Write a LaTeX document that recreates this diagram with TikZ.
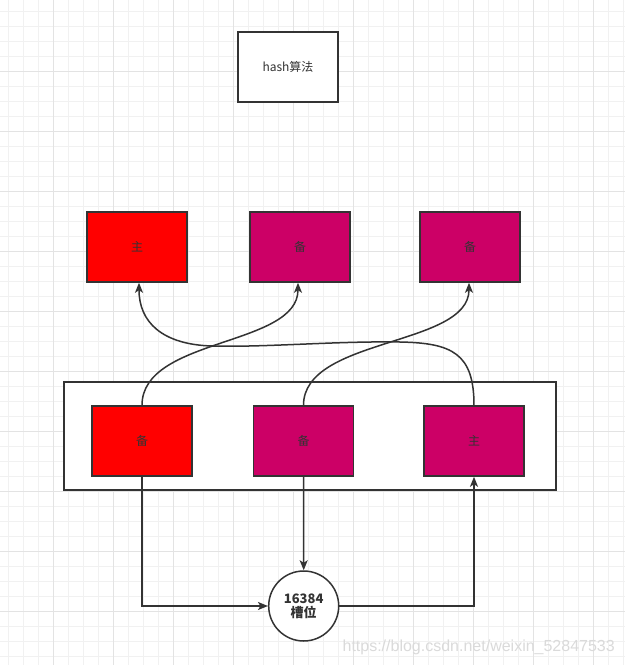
\documentclass[tikz,border=0pt]{standalone}
\usepackage{fontspec}
\setmainfont{Noto Sans CJK SC}
\setsansfont{Liberation Sans}
\usetikzlibrary{arrows.meta}
\definecolor{redfill}{HTML}{FF0000}
\definecolor{magfill}{HTML}{CC0066}
\definecolor{strokec}{HTML}{333333}
\definecolor{gridminor}{HTML}{F1F1F1}
\definecolor{gridmajor}{HTML}{E3E3E3}
\definecolor{wmark}{HTML}{DADADA}
\begin{document}
\begin{tikzpicture}[x=1pt,y=-1pt,
  box/.style={draw=strokec,line width=1.5pt,minimum width=100pt,minimum height=70pt,inner sep=0pt,
    font=\fontsize{12}{14}\selectfont,text=strokec},
  redbox/.style={box,fill=redfill},
  magbox/.style={box,fill=magfill},
  whitebox/.style={box,fill=white},
  container/.style={draw=strokec,line width=1.5pt,fill=white,minimum width=492pt,minimum height=108pt,inner sep=0pt},
  slot/.style={circle,draw=strokec,line width=1.5pt,fill=white,minimum size=70pt,inner sep=0pt,
    font=\bfseries\fontsize{13}{15}\selectfont,text=strokec,align=center},
  conn/.style={draw=strokec,line width=1.5pt,-{Stealth[length=10pt,width=8pt,inset=2.5pt]}},
  watermark/.style={font=\sffamily\fontsize{16}{16}\selectfont,text=wmark,anchor=east,inner sep=0pt}
]
\fill[white] (0,0) rectangle (625,665);
\useasboundingbox (0,0) rectangle (625,665);
% grid
\foreach \i in {0,...,41} \draw[gridminor,line width=1pt] (8.7+15*\i,0) -- (8.7+15*\i,665);
\foreach \j in {0,...,43} \draw[gridminor,line width=1pt] (0,11.7+15*\j) -- (625,11.7+15*\j);
\foreach \i in {0,...,9} \draw[gridmajor,line width=1pt] (53.7+60*\i,0) -- (53.7+60*\i,665);
\foreach \j in {0,...,9} \draw[gridmajor,line width=1pt] (0,71.7+60*\j) -- (625,71.7+60*\j);

% nodes
\node[whitebox] (hash) at (288,67) {hash算法};
\node[redbox] (t1) at (137,247) {主};
\node[magbox] (t2) at (300,247) {备};
\node[magbox] (t3) at (470,247) {备};
\node[container] (group) at (310,436) {};
\node[redbox] (b1) at (142,441) {备};
\node[magbox] (b2) at (303.5,441) {备};
\node[magbox] (b3) at (474,441) {主};
\node[slot] (slot) at (303.7,606) {16384\\[-1pt]槽位};

% curved connectors
\draw[conn] (b1.north) .. controls +(0,-68) and +(0,64) .. ([xshift=-2pt]t2.south);
\draw[conn] (b2.north) .. controls +(0,-68) and +(0,64) .. ([xshift=-1pt]t3.south);
\draw[conn] (b3.north) .. controls +(0,-52) and (452,343) .. (400,342)
  .. controls (335,341) and (265,347.5) .. (212,346)
  .. controls (162,344.5) and (139,322) .. ([xshift=2pt]t1.south);

% orthogonal connectors
\draw[conn] (b1.south) |- (slot.west);
\draw[conn] (b2.south) -- (slot.north);
\draw[conn] (slot.east) -| (b3.south);

\node[watermark] (wm) at (615,647) {https://blog.csdn.net/weixin\_52847533};
\end{tikzpicture}
\end{document}
